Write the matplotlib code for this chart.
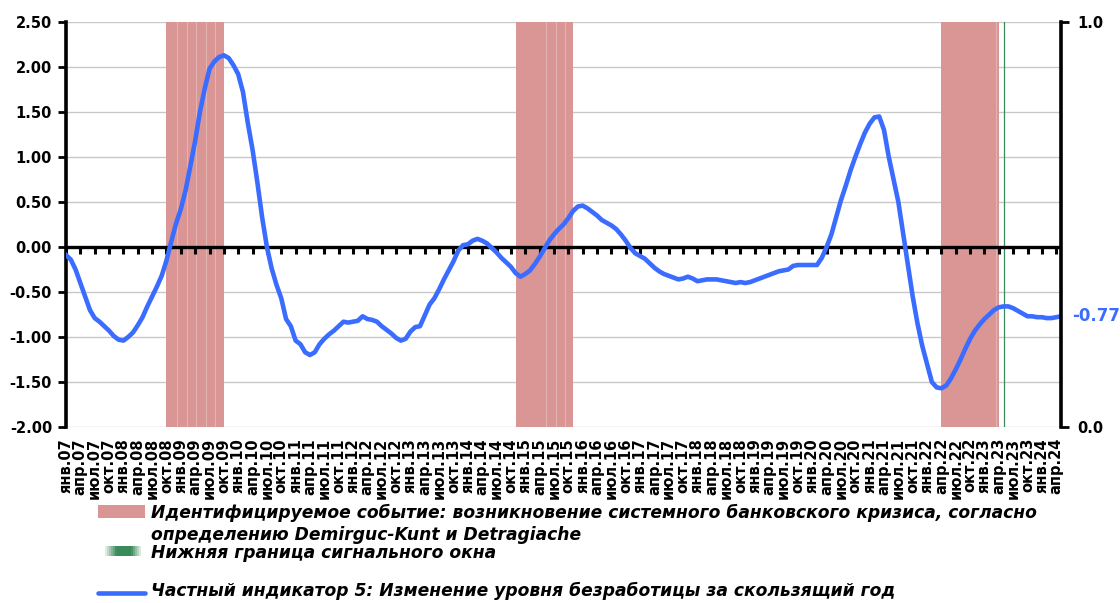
import matplotlib
matplotlib.use('Agg')
import matplotlib.pyplot as plt
import numpy as np
from matplotlib.patches import Rectangle
from matplotlib.lines import Line2D

plt.rcParams['font.family'] = ['DejaVu Sans']
plt.rcParams['font.weight'] = 'bold'

# monthly values, jan 2007 .. may 2024
unemp_2007 = [-0.09, -0.14, -0.25, -0.40, -0.55, -0.70, -0.79, -0.83, -0.88, -0.93, -0.99, -1.03]
unemp_2008 = [-1.04, -1.00, -0.95, -0.87, -0.78, -0.66, -0.55, -0.44, -0.32, -0.15, 0.06, 0.26]
unemp_2009 = [0.42, 0.63, 0.90, 1.18, 1.50, 1.76, 1.98, 2.06, 2.11, 2.13, 2.10, 2.02]
unemp_2010 = [1.92, 1.72, 1.38, 1.08, 0.72, 0.33, 0.00, -0.24, -0.42, -0.57, -0.80, -0.88]
unemp_2011 = [-1.04, -1.08, -1.17, -1.20, -1.17, -1.08, -1.02, -0.97, -0.93, -0.88, -0.83, -0.84]
unemp_2012 = [-0.83, -0.82, -0.77, -0.80, -0.81, -0.83, -0.88, -0.92, -0.96, -1.01, -1.04, -1.02]
unemp_2013 = [-0.94, -0.89, -0.88, -0.76, -0.64, -0.57, -0.47, -0.36, -0.26, -0.16, -0.04, 0.02]
unemp_2014 = [0.03, 0.07, 0.09, 0.07, 0.04, -0.01, -0.06, -0.12, -0.17, -0.22, -0.29, -0.33]
unemp_2015 = [-0.30, -0.26, -0.19, -0.11, -0.02, 0.07, 0.14, 0.20, 0.25, 0.32, 0.40, 0.45]
unemp_2016 = [0.46, 0.43, 0.39, 0.35, 0.30, 0.27, 0.24, 0.20, 0.14, 0.07, -0.01, -0.07]
unemp_2017 = [-0.10, -0.13, -0.18, -0.23, -0.27, -0.30, -0.32, -0.34, -0.36, -0.35, -0.33, -0.35]
unemp_2018 = [-0.38, -0.37, -0.36, -0.36, -0.36, -0.37, -0.38, -0.39, -0.40, -0.39, -0.40, -0.39]
unemp_2019 = [-0.37, -0.35, -0.33, -0.31, -0.29, -0.27, -0.26, -0.25, -0.21, -0.20, -0.20, -0.20]
unemp_2020 = [-0.20, -0.20, -0.12, 0.00, 0.14, 0.33, 0.52, 0.68, 0.85, 1.00, 1.14, 1.27]
unemp_2021 = [1.37, 1.44, 1.45, 1.30, 1.00, 0.75, 0.50, 0.15, -0.20, -0.55, -0.85, -1.10]
unemp_2022 = [-1.30, -1.50, -1.56, -1.57, -1.54, -1.46, -1.36, -1.25, -1.13, -1.02, -0.93, -0.86]
unemp_2023 = [-0.80, -0.75, -0.70, -0.67, -0.66, -0.66, -0.68, -0.71, -0.74, -0.77, -0.77, -0.78]
unemp_2024 = [-0.78, -0.79, -0.79, -0.78, -0.77]

series = (unemp_2007 + unemp_2008 + unemp_2009 + unemp_2010 + unemp_2011 + unemp_2012
          + unemp_2013 + unemp_2014 + unemp_2015 + unemp_2016 + unemp_2017 + unemp_2018
          + unemp_2019 + unemp_2020 + unemp_2021 + unemp_2022 + unemp_2023 + unemp_2024)
series = np.array(series)
months = np.arange(len(series))

# crisis periods (month index from jan 2007), start / end
crisis_start = [21, 94, 183]
crisis_end = [33, 106, 195]
band_seps = [23.2, 25.3, 27.2, 29.3, 31.2, 100.3, 102.4, 104.3, 194.4]
# lower bound of signal window
signal_month = 196

# quarterly tick labels
q_names = ['янв.', 'апр.', 'июл.', 'окт.']
tick_labels = []
for yr in range(2007, 2025):
    for q in q_names:
        tick_labels.append(q + str(yr)[2:])
tick_labels = tick_labels[:70]
tick_pos = np.arange(len(tick_labels)) * 3

last_label = '-0.77'

W, H = 1120, 603
fig = plt.figure(figsize=(W / 100, H / 100), dpi=100)
ax = fig.add_axes([66 / W, 1 - 427 / H, (1061 - 66) / W, (427 - 22) / H])

blue = '#3a6cff'
pink = '#d99694'

ax.set_xlim(0, 208)
ax.set_ylim(-2, 2.5)
ax.set_yticks(np.arange(-2, 2.51, 0.5))
ax.set_yticklabels(['%.2f' % v for v in np.arange(-2, 2.51, 0.5)], fontsize=10.5, fontweight='bold')
ax.grid(axis='y', color='#c8c8c8', lw=1.0)
ax.set_axisbelow(True)

# crisis shading
for s, e in zip(crisis_start, crisis_end):
    ax.axvspan(s, e, color=pink, lw=0, zorder=1.5)
for sx in band_seps:
    ax.axvline(sx, color='white', lw=0.6, alpha=0.35, zorder=1.6)

# signal window line
ax.axvline(signal_month, color='#3a8a5a', lw=0.9, zorder=1.7)

# zero axis with quarterly tick marks
ax.axhline(0, color='black', lw=2.4, zorder=3)
ax.plot(tick_pos, np.zeros(len(tick_pos)), ls='none', marker=3, ms=5, mew=2.2,
        color='black', zorder=3, clip_on=False)

ax.plot(months, series, color=blue, lw=3.3, zorder=4, solid_joinstyle='round')

ax.set_xticks(tick_pos)
ax.set_xticklabels(tick_labels, rotation=90, fontsize=10.5, fontweight='bold', va='top')
ax.tick_params(axis='x', length=0, pad=8)
ax.tick_params(axis='y', direction='out', length=6, width=2, pad=4)

for side in ['top', 'bottom', 'right']:
    ax.spines[side].set_visible(False)
ax.spines['left'].set_linewidth(2.6)

# right axis 0..1
ax2 = ax.twinx()
ax2.set_ylim(0, 1)
ax2.set_yticks([0, 1])
ax2.set_yticklabels(['0.0', '1.0'], fontsize=10.5, fontweight='bold')
ax2.tick_params(axis='y', direction='out', length=6, width=2, pad=6)
for side in ['top', 'bottom', 'left']:
    ax2.spines[side].set_visible(False)
ax2.spines['right'].set_linewidth(2.6)

ax.annotate(last_label, xy=(months[-1], series[-1]), xytext=(8, 0), textcoords='offset points',
            color=blue, fontsize=12, fontweight='bold', va='center', ha='left',
            annotation_clip=False)

# legend, drawn by hand
def fx(x):
    return x / W

def fy(y):
    return 1 - y / H

fig.add_artist(Rectangle((fx(98), fy(518)), fx(145) - fx(98), fy(505) - fy(518),
                         transform=fig.transFigure, color=pink, lw=0))
tstyle = dict(fontsize=12.3, fontweight='bold', fontstyle='italic', va='baseline', ha='left')
fig.text(fx(151), fy(517.5), 'Идентифицируемое событие: возникновение системного банковского кризиса, согласно', **tstyle)
fig.text(fx(151), fy(540), 'определению Demirguc-Kunt и Detragiache', **tstyle)

# green gradient swatch
n = 20
for i in range(n):
    t = i / (n - 1)
    a = min(1.0, 3.0 * t) * min(1.0, 3.5 * (1 - t))
    x0 = 103 + 40 * i / n
    fig.add_artist(Rectangle((fx(x0), fy(556)), fx(40 / n + 0.3), fy(546) - fy(556),
                             transform=fig.transFigure, color='#3a8a5a', alpha=a, lw=0))
fig.text(fx(151), fy(558), 'Нижняя граница сигнального окна', **tstyle)

fig.add_artist(Line2D([fx(98), fx(145)], [fy(592.5), fy(592.5)], transform=fig.transFigure,
                      color=blue, lw=3.3, solid_capstyle='round'))
fig.text(fx(151), fy(596.5), 'Частный индикатор 5: Изменение уровня безработицы за скользящий год', **tstyle)

fig.savefig('out.png', dpi=100)
